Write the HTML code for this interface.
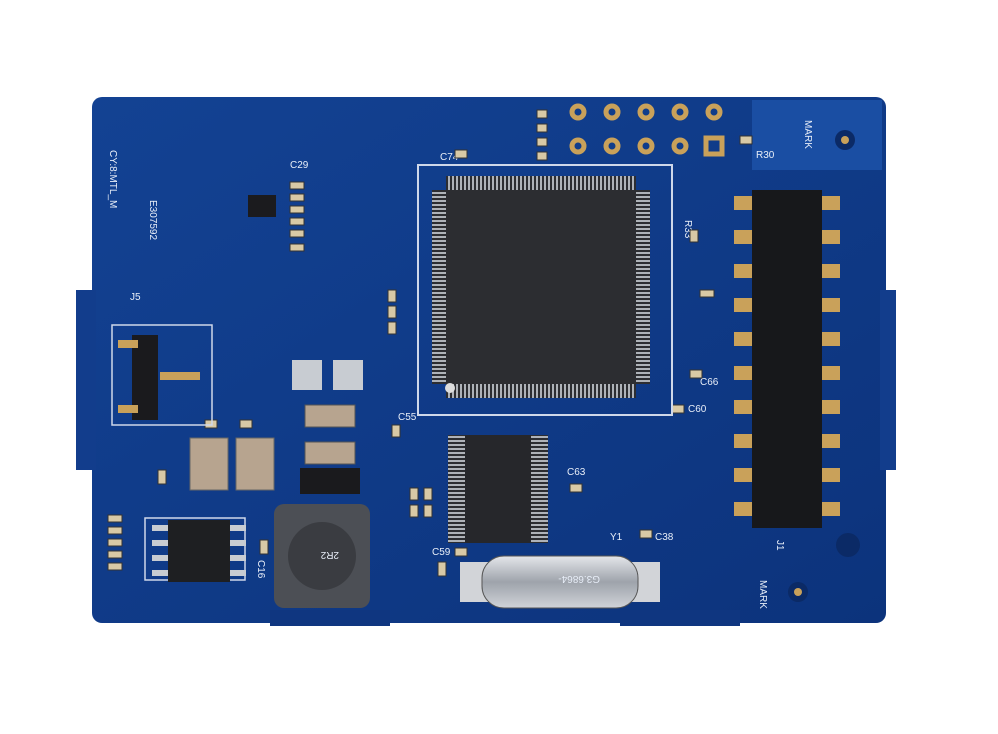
<!DOCTYPE html>
<html><head><meta charset="utf-8"><style>
html,body{margin:0;padding:0;background:#fff;}
svg{display:block}
text{font-family:"Liberation Sans",sans-serif;fill:#e8eef8;font-size:10px}
</style></head><body>
<svg width="998" height="734" viewBox="0 0 998 734" xmlns="http://www.w3.org/2000/svg">
<defs>
<linearGradient id="b" x1="0" y1="0" x2="1" y2="1">
<stop offset="0" stop-color="#134293"/><stop offset="1" stop-color="#0c337c"/></linearGradient>
<linearGradient id="xt" x1="0" y1="0" x2="0" y2="1">
<stop offset="0" stop-color="#e4e6ea"/><stop offset="0.5" stop-color="#9ea3ab"/><stop offset="1" stop-color="#d0d3d8"/></linearGradient>
<pattern id="ph" width="4" height="4" patternUnits="userSpaceOnUse"><rect width="4" height="4" fill="#2c2d31"/><rect width="2" height="4" fill="#aeb2b8"/></pattern>
<pattern id="pv" width="4" height="4" patternUnits="userSpaceOnUse"><rect width="4" height="4" fill="#2c2d31"/><rect width="4" height="2" fill="#aeb2b8"/></pattern>
</defs>
<rect width="998" height="734" fill="#fff"/>
<rect x="92" y="97" width="794" height="526" rx="10" fill="url(#b)"/>
<rect x="76" y="290" width="20" height="180" fill="#123d8c"/>
<rect x="880" y="290" width="16" height="180" fill="#123d8c"/>
<rect x="270" y="610" width="120" height="16" fill="#0f3680"/>
<rect x="620" y="610" width="120" height="16" fill="#0f3680"/>
<rect x="752" y="100" width="130" height="70" fill="#1a4ea3"/>
<text x="440" y="160">C74</text>
<text x="290" y="168">C29</text>
<text x="655" y="250" transform="rotate(90 685 250)">R33</text>
<text x="756" y="158">R30</text>
<text x="110" y="150" transform="rotate(90 110 150)">CY:8:MTL_M</text>
<text x="150" y="200" transform="rotate(90 150 200)">E307592</text>
<text x="130" y="300">J5</text>
<text x="198" y="550" font-size="9">V11</text>
<text x="258" y="560" transform="rotate(90 258 560)">C16</text>
<text x="358" y="580" transform="rotate(90 358 580)">L1</text>
<text x="530" y="520" transform="rotate(90 530 520)">U10</text>
<text x="610" y="540">Y1</text>
<text x="655" y="540">C38</text>
<text x="432" y="555">C59</text>
<text x="567" y="475">C63</text>
<text x="700" y="385">C66</text>
<text x="688" y="412">C60</text>
<text x="777" y="540" transform="rotate(90 777 540)">J1</text>
<text x="805" y="120" transform="rotate(90 805 120)">MARK</text>
<text x="760" y="580" transform="rotate(90 760 580)">MARK</text>
<text x="398" y="420">C55</text>
<g fill="#d8c9a6" stroke="#333" stroke-width="1">
<rect x="290" y="182" width="14" height="7"/><rect x="290" y="194" width="14" height="7"/><rect x="290" y="206" width="14" height="7"/><rect x="290" y="218" width="14" height="7"/><rect x="290" y="230" width="14" height="7"/><rect x="290" y="244" width="14" height="7"/>
<rect x="537" y="110" width="10" height="8"/><rect x="537" y="124" width="10" height="8"/><rect x="537" y="138" width="10" height="8"/><rect x="537" y="152" width="10" height="8"/>
<rect x="455" y="150" width="12" height="8"/><rect x="740" y="136" width="12" height="8"/>
<rect x="388" y="290" width="8" height="12"/><rect x="388" y="306" width="8" height="12"/><rect x="388" y="322" width="8" height="12"/>
<rect x="690" y="230" width="8" height="12"/><rect x="700" y="290" width="14" height="7"/><rect x="690" y="370" width="12" height="8"/><rect x="672" y="405" width="12" height="8"/>
<rect x="392" y="425" width="8" height="12"/><rect x="410" y="488" width="8" height="12"/><rect x="424" y="488" width="8" height="12"/><rect x="410" y="505" width="8" height="12"/><rect x="424" y="505" width="8" height="12"/>
<rect x="570" y="484" width="12" height="8"/><rect x="640" y="530" width="12" height="8"/><rect x="455" y="548" width="12" height="8"/><rect x="438" y="562" width="8" height="14"/>
<rect x="260" y="540" width="8" height="14"/><rect x="108" y="515" width="14" height="7"/><rect x="108" y="527" width="14" height="7"/><rect x="108" y="539" width="14" height="7"/><rect x="108" y="551" width="14" height="7"/><rect x="108" y="563" width="14" height="7"/>
<rect x="158" y="470" width="8" height="14"/><rect x="205" y="420" width="12" height="8"/><rect x="240" y="420" width="12" height="8"/>
</g>
<rect x="248" y="195" width="28" height="22" fill="#1b1b1e"/>
<!-- main QFP -->
<rect x="418" y="165" width="254" height="250" fill="none" stroke="#cfd8ea" stroke-width="2"/>
<rect x="446" y="176" width="190" height="14" fill="url(#ph)"/>
<rect x="446" y="384" width="190" height="14" fill="url(#ph)"/>
<rect x="432" y="190" width="14" height="194" fill="url(#pv)"/>
<rect x="636" y="190" width="14" height="194" fill="url(#pv)"/>
<rect x="446" y="190" width="190" height="194" fill="#2c2d31"/>
<circle cx="450" cy="388" r="5" fill="#ddd"/>
<!-- TSSOP -->
<rect x="448" y="435" width="17" height="108" fill="url(#pv)"/>
<rect x="531" y="435" width="17" height="108" fill="url(#pv)"/>
<rect x="465" y="435" width="66" height="108" fill="#26272b"/>
<!-- header -->
<rect x="752" y="190" width="70" height="338" fill="#17181b"/>
<g fill="#c9a15a">
<rect x="734" y="196" width="18" height="14"/><rect x="822" y="196" width="18" height="14"/>
<rect x="734" y="230" width="18" height="14"/><rect x="822" y="230" width="18" height="14"/>
<rect x="734" y="264" width="18" height="14"/><rect x="822" y="264" width="18" height="14"/>
<rect x="734" y="298" width="18" height="14"/><rect x="822" y="298" width="18" height="14"/>
<rect x="734" y="332" width="18" height="14"/><rect x="822" y="332" width="18" height="14"/>
<rect x="734" y="366" width="18" height="14"/><rect x="822" y="366" width="18" height="14"/>
<rect x="734" y="400" width="18" height="14"/><rect x="822" y="400" width="18" height="14"/>
<rect x="734" y="434" width="18" height="14"/><rect x="822" y="434" width="18" height="14"/>
<rect x="734" y="468" width="18" height="14"/><rect x="822" y="468" width="18" height="14"/>
<rect x="734" y="502" width="18" height="14"/><rect x="822" y="502" width="18" height="14"/>
</g>
<g fill="none" stroke="#c9a15a" stroke-width="5">
<circle cx="578" cy="112" r="6"/><circle cx="612" cy="112" r="6"/><circle cx="646" cy="112" r="6"/><circle cx="680" cy="112" r="6"/><circle cx="714" cy="112" r="6"/>
<circle cx="578" cy="146" r="6"/><circle cx="612" cy="146" r="6"/><circle cx="646" cy="146" r="6"/><circle cx="680" cy="146" r="6"/>
</g>
<rect x="706" y="138" width="16" height="16" fill="none" stroke="#c9a15a" stroke-width="5"/>
<circle cx="845" cy="140" r="10" fill="#0b2a66"/><circle cx="845" cy="140" r="4" fill="#c9a15a"/>
<circle cx="798" cy="592" r="10" fill="#0b2a66"/><circle cx="798" cy="592" r="4" fill="#c9a15a"/>
<circle cx="848" cy="545" r="12" fill="#0b2a66"/>
<rect x="112" y="325" width="100" height="100" fill="none" stroke="#cfd8ea" stroke-width="1.5"/>
<rect x="132" y="335" width="26" height="85" fill="#1a1a1d"/>
<rect x="118" y="340" width="20" height="8" fill="#c9a15a"/><rect x="118" y="405" width="20" height="8" fill="#c9a15a"/><rect x="160" y="372" width="40" height="8" fill="#c9a15a"/>
<rect x="190" y="438" width="38" height="52" fill="#b7a48f" stroke="#666"/>
<rect x="236" y="438" width="38" height="52" fill="#b7a48f" stroke="#666"/>
<rect x="305" y="405" width="50" height="22" fill="#b7a48f" stroke="#555"/>
<rect x="305" y="442" width="50" height="22" fill="#b7a48f" stroke="#555"/>
<rect x="300" y="468" width="60" height="26" fill="#1a1a1d"/>
<rect x="292" y="360" width="30" height="30" fill="#c8ccd2"/><rect x="333" y="360" width="30" height="30" fill="#c8ccd2"/>
<rect x="145" y="518" width="100" height="62" fill="none" stroke="#cfd8ea" stroke-width="1.5"/>
<rect x="168" y="520" width="62" height="62" fill="#1e1f22"/>
<g fill="#c8ccd2"><rect x="152" y="525" width="16" height="6"/><rect x="152" y="540" width="16" height="6"/><rect x="152" y="555" width="16" height="6"/><rect x="152" y="570" width="16" height="6"/>
<rect x="230" y="525" width="16" height="6"/><rect x="230" y="540" width="16" height="6"/><rect x="230" y="555" width="16" height="6"/><rect x="230" y="570" width="16" height="6"/></g>
<rect x="274" y="504" width="96" height="104" rx="10" fill="#4c4f55"/>
<circle cx="322" cy="556" r="34" fill="#3a3c41"/>
<text x="305" y="560" fill="#ddd" font-size="14" transform="rotate(180 322 556)">2R2</text>
<rect x="460" y="562" width="200" height="40" fill="#d2d4d8"/>
<rect x="482" y="556" width="156" height="52" rx="22" fill="url(#xt)" stroke="#555"/>
<text x="520" y="588" fill="#333" font-size="16" transform="rotate(180 560 582)">G3.6864-</text>
</svg>
</body></html>
